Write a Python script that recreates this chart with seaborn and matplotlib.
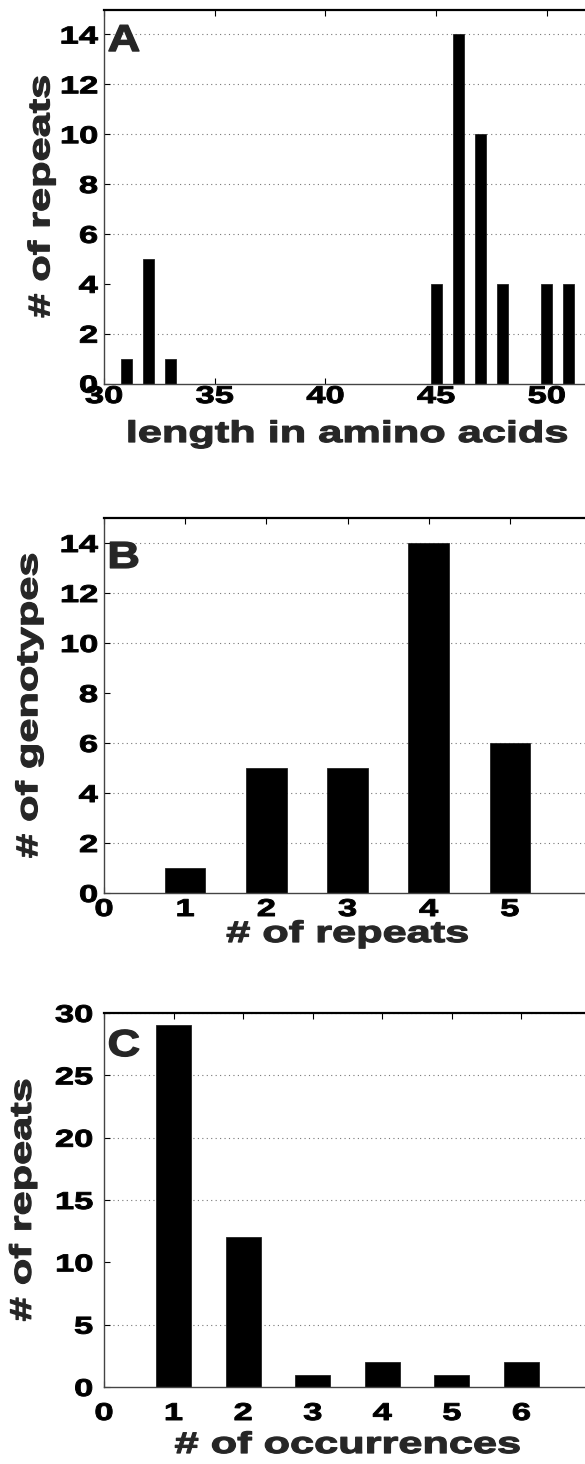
import matplotlib
matplotlib.use('Agg')
import matplotlib.pyplot as plt
import pandas as pd
import seaborn as sns
from matplotlib.patheffects import AbstractPathEffect
from matplotlib.transforms import Affine2D

# Panel A: repeat lengths
aa_length = [31, 32, 33, 45, 46, 47, 48, 50, 51]
aa_count = [1, 5, 1, 4, 14, 10, 4, 4, 4]

# Panel B: repeats per genotype
repeats_per_genotype = [1, 2, 3, 4, 5]
genotype_count = [1, 5, 5, 14, 6]

# Panel C: occurrences of each repeat
occurrences = [1, 2, 3, 4, 5, 6]
repeat_count = [29, 12, 1, 2, 1, 2]

A_XTICKS = [30, 35, 40, 45, 50]
A_YTICKS = [0, 2, 4, 6, 8, 10, 12, 14]
B_XTICKS = [0, 1, 2, 3, 4, 5]
B_YTICKS = [0, 2, 4, 6, 8, 10, 12, 14]
C_XTICKS = [0, 1, 2, 3, 4, 5, 6]
C_YTICKS = [0, 5, 10, 15, 20, 25, 30]

FIG_W, FIG_H = 585, 1464


class WideText(AbstractPathEffect):
    """Stretch glyphs along the text direction and thicken them a bit
    (the source figure used a wide, heavy font)."""

    def __init__(self, sx, anchor='center', bold=0.7):
        super().__init__()
        self.sx = sx
        self.anchor = anchor
        self.bold = bold

    def draw_path(self, renderer, gc, tpath, affine, rgbFace=None):
        ext = tpath.get_extents()
        if self.anchor == 'left':
            cx = ext.x0
        elif self.anchor == 'right':
            cx = ext.x1
        else:
            cx = (ext.x0 + ext.x1) / 2
        stretch = Affine2D().translate(-cx, 0).scale(self.sx, 1).translate(cx, 0)
        gc0 = renderer.new_gc()
        gc0.copy_properties(gc)
        gc0.set_linewidth(self.bold)
        gc0.set_foreground(rgbFace if rgbFace is not None else 'black')
        renderer.draw_path(gc0, tpath, stretch + affine, rgbFace)
        gc0.restore()


def px_axes(top, bottom, left=104, right=591):
    return [left / FIG_W, 1 - bottom / FIG_H, (right - left) / FIG_W, (bottom - top) / FIG_H]


def draw_panel(ax, x, y, xlim, ylim, xticks, yticks, letter, letter_y,
               xlabel, ylabel, xlabel_y, ylabel_x, xpad, ypad, grid_skip):
    df = pd.DataFrame({'x': x, 'y': y})
    sns.barplot(data=df, x='x', y='y', native_scale=True, width=0.5,
                color='black', saturation=1, edgecolor='#222222', linewidth=0.6,
                errorbar=None, ax=ax)

    ax.set_xlim(*xlim)
    ax.set_ylim(*ylim)
    ax.set_xticks(xticks)
    ax.set_yticks(yticks)
    ax.set_xticklabels([str(v) for v in xticks])
    ax.set_yticklabels([str(v) for v in yticks])

    ax.set_axisbelow(True)
    ax.yaxis.grid(True, linestyle=(0, (1, 3)), color='#777777', linewidth=0.8)
    ax.xaxis.grid(False)
    for val, gl in zip(yticks, ax.yaxis.get_gridlines()):
        if val in grid_skip or val == ylim[0]:
            gl.set_visible(False)

    ax.tick_params(direction='in', length=4, width=0.8, top=True, right=False,
                   labelsize=17.5, colors='black')
    ax.tick_params(axis='x', pad=xpad)
    ax.tick_params(axis='y', pad=ypad)

    for side in ['left', 'bottom']:
        ax.spines[side].set_color('#444444')
        ax.spines[side].set_linewidth(1.0)
    ax.spines['top'].set_color('black')
    ax.spines['top'].set_linewidth(1.6)
    ax.spines['right'].set_visible(False)

    ax.set_xlabel(xlabel, fontsize=21.5, fontweight='bold', va='baseline')
    ax.xaxis.set_label_coords(0.5, xlabel_y)
    ax.set_ylabel(ylabel, fontsize=21.5, fontweight='bold')
    ax.yaxis.set_label_coords(ylabel_x, 0.5)
    ax.xaxis.label.set_path_effects([WideText(1.45, bold=0.9)])
    ax.yaxis.label.set_path_effects([WideText(1.45, bold=0.9)])

    for lab in ax.get_xticklabels():
        lab.set_path_effects([WideText(1.42)])
    for lab in ax.get_yticklabels():
        lab.set_path_effects([WideText(1.42, 'right')])

    ax.text(0.008, letter_y, letter, transform=ax.transAxes, fontsize=27,
            fontweight='bold', ha='left', va='baseline',
            path_effects=[WideText(1.2, 'left', bold=1.0)])


sns.set_theme(style='ticks')
plt.rcParams['font.family'] = ['Liberation Sans', 'DejaVu Sans']
plt.rcParams['font.weight'] = 'bold'
plt.rcParams['axes.labelweight'] = 'bold'

fig = plt.figure(figsize=(FIG_W / 100, FIG_H / 100), dpi=100)
ax_a = fig.add_axes(px_axes(9.5, 383.5))
ax_b = fig.add_axes(px_axes(518, 893))
ax_c = fig.add_axes(px_axes(1013, 1387))

draw_panel(ax_a, aa_length, aa_count, (30, 52), (0, 15), A_XTICKS, A_YTICKS,
           'A', 0.889, 'length in amino acids', '# of repeats',
           -58.5 / 374, -0.10, 1.1, 4.5, [4])
draw_panel(ax_b, repeats_per_genotype, genotype_count, (0, 6), (0, 15), B_XTICKS, B_YTICKS,
           'B', 0.867, '# of repeats', '# of genotypes',
           -49 / 375, -0.125, 3.6, 4.5, [8])
draw_panel(ax_c, occurrences, repeat_count, (0, 7), (0, 30), C_XTICKS, C_YTICKS,
           'C', 0.885, '# of occurrences', '# of repeats',
           -66 / 374, -0.138, 10.8, 8, [10])

fig.savefig('out.png', dpi=100)
